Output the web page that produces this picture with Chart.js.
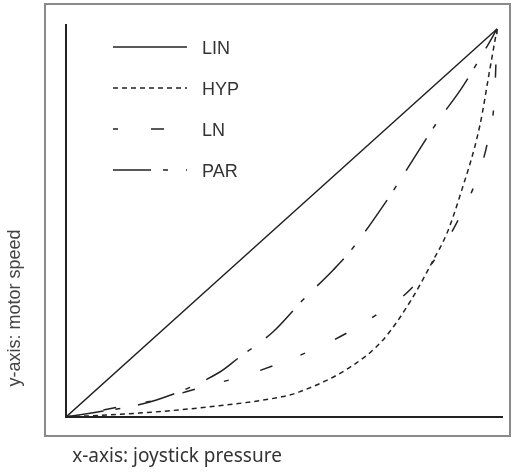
<!DOCTYPE html>
<html>
<head>
<meta charset="utf-8">
<script src="https://cdn.jsdelivr.net/npm/chart.js@4/dist/chart.umd.min.js"></script>
<style>
  html, body { margin: 0; padding: 0; background: #fff; }
  #wrap { width: 517px; height: 472px; }
</style>
</head>
<body>
<div id="wrap"><canvas id="myChart" width="517" height="472"></canvas></div>
<script>
// joystick pressure (0..1) -> motor speed (0..1)
const linX = [0, 1];
const linY = [0, 1];

const hypX = [0, 0.17, 0.33, 0.50, 0.54, 0.66, 0.735, 0.80, 0.85, 0.884, 0.914, 0.96, 0.984, 1];
const hypY = [0, 0.010, 0.026, 0.052, 0.064, 0.129, 0.198, 0.30, 0.40, 0.474, 0.57, 0.75, 0.90, 1];

const lnX = [0, 0.11, 0.21, 0.31, 0.44, 0.62, 0.72, 0.80, 0.87, 0.92, 0.955, 0.98, 0.995, 1];
const lnY = [0, 0.023, 0.044, 0.075, 0.116, 0.198, 0.263, 0.33, 0.43, 0.53, 0.62, 0.72, 0.84, 1];

const parX = [0, 0.21, 0.357, 0.40, 0.48, 0.55, 0.62, 0.66, 0.745, 0.78, 0.86, 0.92, 0.972, 1];
const parY = [0, 0.044, 0.116, 0.152, 0.219, 0.302, 0.379, 0.428, 0.559, 0.619, 0.758, 0.851, 0.946, 1];

const seriesNames = ['LIN', 'HYP', 'LN', 'PAR'];

function pts (xs, ys) {
    return xs.map((x, i) => ({ x: x, y: ys[i] }));
}

// frame, axis captions and the inside legend
const decor = {
    id: 'decor',
    beforeDraw (chart) {
        const ctx = chart.ctx;
        ctx.save();
        ctx.fillStyle = '#fff';
        ctx.fillRect(0, 0, chart.width, chart.height);
        ctx.strokeStyle = '#8a8a8a';
        ctx.lineWidth = 2;
        ctx.strokeRect(45, 4, 465, 432);
        ctx.restore();
    },
    afterDraw (chart) {
        const ctx = chart.ctx;
        ctx.save();
        // legend
        chart.data.datasets.forEach((ds, i) => {
            const y = 47 + i * 41;
            ctx.beginPath();
            ctx.setLineDash(ds.borderDash || []);
            ctx.strokeStyle = ds.borderColor;
            ctx.lineWidth = 1.5;
            ctx.moveTo(113, y);
            ctx.lineTo(187, y);
            ctx.stroke();
            ctx.setLineDash([]);
            ctx.fillStyle = '#333';
            ctx.font = '18px "Liberation Sans", Arial, sans-serif';
            ctx.textBaseline = 'middle';
            ctx.fillText(ds.label, 202, y + 2);
        });
        // axis captions
        ctx.fillStyle = '#444';
        ctx.font = '18px "Liberation Sans", Arial, sans-serif';
        ctx.textAlign = 'center';
        ctx.textBaseline = 'middle';
        ctx.translate(15, 308);
        ctx.rotate(-Math.PI / 2);
        ctx.fillText('y-axis: motor speed', 0, 0);
        ctx.restore();
        ctx.save();
        ctx.fillStyle = '#333';
        ctx.font = '19px "Noto Sans", sans-serif';
        ctx.textAlign = 'center';
        ctx.textBaseline = 'middle';
        ctx.fillText('x-axis: joystick pressure', 177, 457);
        ctx.restore();
    }
};

var ctx = document.getElementById('myChart').getContext('2d');
var chart = new Chart(ctx, {
    type: 'scatter',
    data: {
        datasets: [
            { label: seriesNames[0], data: pts(linX, linY), borderDash: [] },
            { label: seriesNames[1], data: pts(hypX, hypY), borderDash: [5, 4] },
            { label: seriesNames[2], data: pts(lnX, lnY), borderDash: [5, 33, 13, 30] },
            { label: seriesNames[3], data: pts(parX, parY), borderDash: [38, 12, 5, 18] }
        ].map(ds => Object.assign(ds, {
            showLine: true,
            borderColor: '#222',
            borderWidth: 1.5,
            pointRadius: 0,
            cubicInterpolationMode: 'monotone',
            fill: false
        }))
    },
    options: {
        responsive: false,
        animation: false,
        layout: { padding: { left: 66, right: 15, top: 25, bottom: 55 } },
        plugins: { legend: { display: false }, tooltip: { enabled: false } },
        scales: {
            x: {
                type: 'linear',
                min: 0,
                max: 1.0116,
                grid: { display: false, drawTicks: false },
                ticks: { display: false, padding: 0 },
                border: { display: true, color: '#222', width: 2 }
            },
            y: {
                type: 'linear',
                min: 0,
                max: 1.0103,
                grid: { display: false, drawTicks: false },
                ticks: { display: false, padding: 0 },
                border: { display: true, color: '#222', width: 2 }
            }
        }
    },
    plugins: [decor]
});
</script>
</body>
</html>
